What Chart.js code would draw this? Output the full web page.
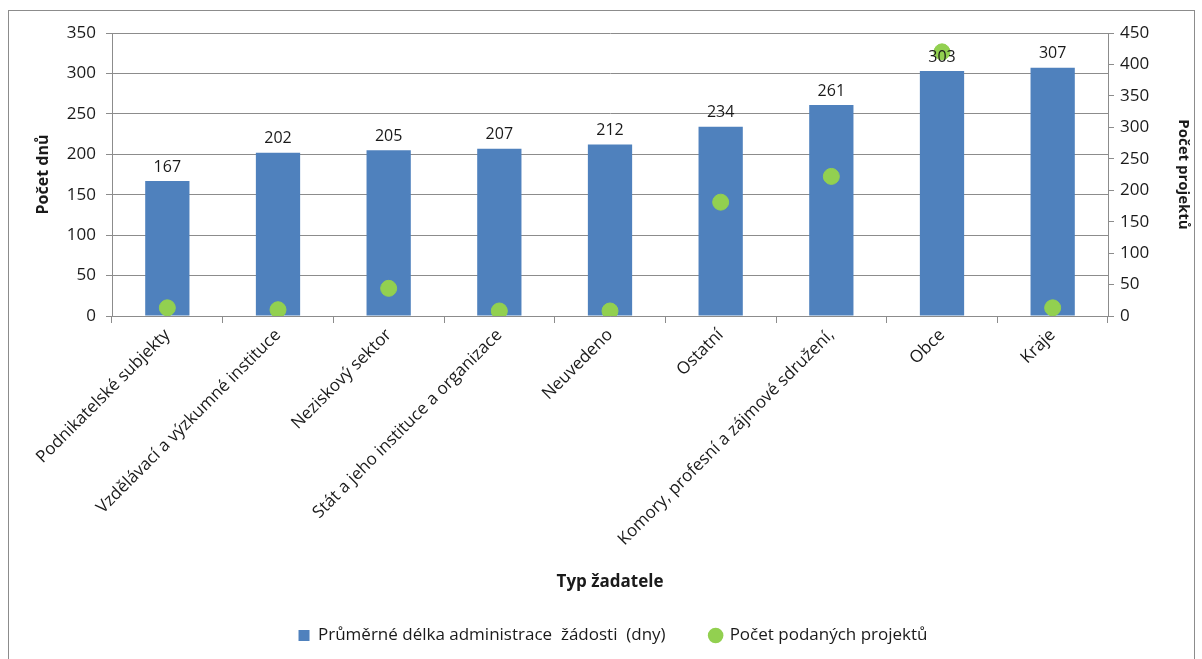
<!DOCTYPE html>
<html>
<head>
<meta charset="utf-8">
<script src="https://cdn.jsdelivr.net/npm/chart.js@4.4.1/dist/chart.umd.min.js"></script>
<style>
  html, body { margin: 0; padding: 0; background: #fff; }
  #frame { position: absolute; left: 8px; top: 10px; width: 1187px; height: 660px; border: 1px solid #8c8c8c; box-sizing: border-box; }
  #wrap { position: absolute; left: 0; top: 0; width: 1202px; height: 659px; }
</style>
</head>
<body>
<div id="frame"></div>
<div id="wrap"><canvas id="chart"></canvas></div>
<script>
// Applicant types, average admin length (days) and number of submitted projects
const categories = [
  'Podnikatelské subjekty',
  'Vzdělávací a výzkumné instituce',
  'Neziskový sektor',
  'Stát a jeho instituce a organizace',
  'Neuvedeno',
  'Ostatní',
  'Komory, profesní a zájmové sdružení,',
  'Obce',
  'Kraje',
];
const avgDays = [167, 202, 205, 207, 212, 234, 261, 303, 307];
const projectCounts = [13, 10, 44, 8, 8, 181, 222, 420, 13];

const FONT = '"Open Sans", Lato, sans-serif';
const TEXT = '#1a1a1a';
const GRID = '#8c8c8c';

// Value labels above each bar, drawn after all datasets so they sit on top.
const barLabels = {
  id: 'barLabels',
  afterDatasetsDraw(chart) {
    const meta = chart.getDatasetMeta(0);
    const { ctx } = chart;
    ctx.save();
    ctx.font = `16px ${FONT}`;
    ctx.fillStyle = TEXT;
    ctx.textAlign = 'center';
    ctx.textBaseline = 'bottom';
    meta.data.forEach((bar, i) => {
      ctx.fillText(String(avgDays[i]), bar.x, bar.y - 6);
    });
    ctx.restore();
  },
};

new Chart(document.getElementById('chart'), {
  type: 'bar',
  plugins: [barLabels],
  data: {
    labels: categories,
    datasets: [
      {
        label: 'Průměrné délka administrace  žádosti  (dny)      ',
        data: avgDays,
        backgroundColor: '#4F81BD',
        borderWidth: 0,
        barPercentage: 0.4,
        categoryPercentage: 1,
        yAxisID: 'y',
        order: 2,
      },
      {
        type: 'line',
        label: 'Počet podaných projektů',
        data: projectCounts,
        showLine: false,
        pointStyle: 'circle',
        pointRadius: 8,
        pointBackgroundColor: '#92D050',
        pointBorderColor: '#92D050',
        backgroundColor: '#92D050',
        borderColor: '#92D050',
        yAxisID: 'y1',
        order: 1,
      },
    ],
  },
  options: {
    responsive: true,
    maintainAspectRatio: false,
    animation: false,
    devicePixelRatio: 1,
    layout: { padding: { top: 33, left: 30, right: 6, bottom: 5 } },
    plugins: {
      tooltip: { enabled: false },
      legend: {
        position: 'bottom',
        labels: {
          color: TEXT,
          font: { size: 17, family: FONT },
          usePointStyle: true,
          boxWidth: 11,
          boxHeight: 11,
          padding: 18,
          generateLabels(chart) {
            return chart.data.datasets.map((ds, i) => ({
              text: ds.label,
              fillStyle: i === 0 ? '#4F81BD' : '#92D050',
              strokeStyle: i === 0 ? '#4F81BD' : '#92D050',
              lineWidth: 0,
              pointStyle: i === 0 ? 'rect' : 'circle',
              fontColor: TEXT,
              datasetIndex: i,
            }));
          },
        },
      },
    },
    scales: {
      x: {
        grid: { offset: true, drawOnChartArea: false, drawTicks: true, tickLength: 7, color: GRID },
        border: { color: GRID },
        ticks: { color: TEXT, font: { size: 17, family: FONT }, minRotation: 45, maxRotation: 45, padding: 2 },
        title: { display: true, text: 'Typ žadatele', color: TEXT, font: { size: 17, weight: 'bold', family: FONT }, padding: { top: 14, bottom: 17 } },
        afterFit(scale) { scale.height = 293; },
      },
      y: {
        position: 'left',
        min: 0, max: 350,
        ticks: { stepSize: 50, color: TEXT, font: { size: 17, family: FONT }, padding: 10 },
        grid: { color: GRID, tickLength: 6 },
        border: { color: GRID },
        title: { display: true, text: 'Počet dnů', color: TEXT, font: { size: 16, weight: 'bold', family: FONT } },
        afterFit(scale) { scale.width = 82; },
      },
      y1: {
        position: 'right',
        min: 0, max: 450,
        ticks: { stepSize: 50, color: TEXT, font: { size: 17, family: FONT }, padding: 6 },
        grid: { drawOnChartArea: false, color: GRID, tickLength: 6 },
        border: { color: GRID },
        title: { display: true, text: 'Počet projektů', color: TEXT, font: { size: 15, weight: 'bold', family: FONT } },
        afterFit(scale) { scale.width = 88; },
      },
    },
  },
});
</script>
</body>
</html>
